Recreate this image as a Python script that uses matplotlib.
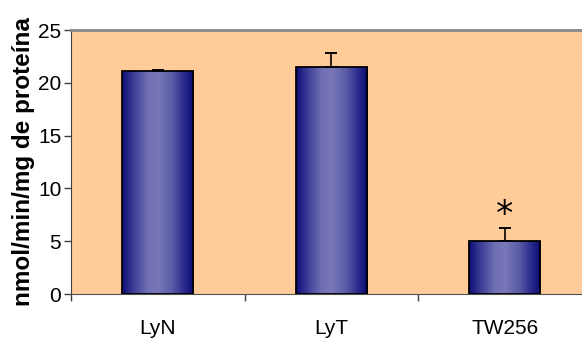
import numpy as np
import matplotlib
matplotlib.use('Agg')
import matplotlib.pyplot as plt
from matplotlib.colors import LinearSegmentedColormap
from matplotlib.patches import Rectangle

# activity per cell line, with upper error (SD)
cells = ['LyN', 'LyT', 'TW256']
activity = [21.1, 21.5, 5.0]
sd = [0.15, 1.3, 1.25]
signif = ['', '', '*']

PLOT_BG = '#FFCC99'
BAR_CMAP = LinearSegmentedColormap.from_list('bar', [
    (0.00, '#0c0c78'), (0.15, '#3a3a95'), (0.35, '#6e6eb2'),
    (0.50, '#7878b8'), (0.70, '#5a5aa6'), (0.88, '#27278a'),
    (1.00, '#0a0a70')])

plt.rcParams['font.family'] = ['Liberation Sans', 'DejaVu Sans']

fig = plt.figure(figsize=(5.82, 3.42), dpi=100)
ax = fig.add_axes([71 / 582, 48 / 342, 520.5 / 582, 264 / 342])
ax.set_facecolor(PLOT_BG)

x = np.arange(len(cells))
width = 0.41
grad = np.linspace(0, 1, 256).reshape(1, -1)
for xi, h in zip(x, activity):
    rect = Rectangle((xi - width / 2, 0), width, h, facecolor='none',
                     edgecolor='black', lw=1.3, zorder=3)
    ax.add_patch(rect)
    im = ax.imshow(grad, cmap=BAR_CMAP, aspect='auto', zorder=2,
                   extent=(xi - width / 2, xi + width / 2, 0, h))
    im.set_clip_path(rect)

ax.errorbar(x, activity, yerr=[np.zeros(len(sd)), sd], fmt='none',
            ecolor='black', elinewidth=1.2, capsize=4.2, capthick=1.4, zorder=4)
for xi, h, e, s in zip(x, activity, sd, signif):
    if s:
        ax.text(xi, h + e - 0.35, s, ha='center', va='bottom', fontsize=25,
                family=['DejaVu Sans'], zorder=5)

ax.set_xlim(-0.5, 2.5)
ax.set_ylim(0, 25)
ax.set_yticks(range(0, 26, 5))
ax.tick_params(axis='y', direction='out', length=5, width=1, color='#404040',
               labelsize=15, pad=2)
ax.set_xticks([-0.5, 0.5, 1.5, 2.5])
ax.set_xticklabels([])
ax.tick_params(axis='x', which='major', direction='out', length=5, width=1,
               color='#404040')
ax.set_xticks(x, minor=True)
ax.set_xticklabels(cells, minor=True)
ax.tick_params(axis='x', which='minor', length=0, labelsize=15, pad=18)

ax.spines['left'].set_color('#404040')
ax.spines['bottom'].set_color('#505050')
ax.spines['top'].set_color('#888888')
ax.spines['top'].set_linewidth(2)
ax.spines['right'].set_visible(False)

ax.set_ylabel('nmol/min/mg de proteína', fontsize=17.5, fontweight='bold',
              labelpad=2)

fig.savefig('out.png', dpi=100)
